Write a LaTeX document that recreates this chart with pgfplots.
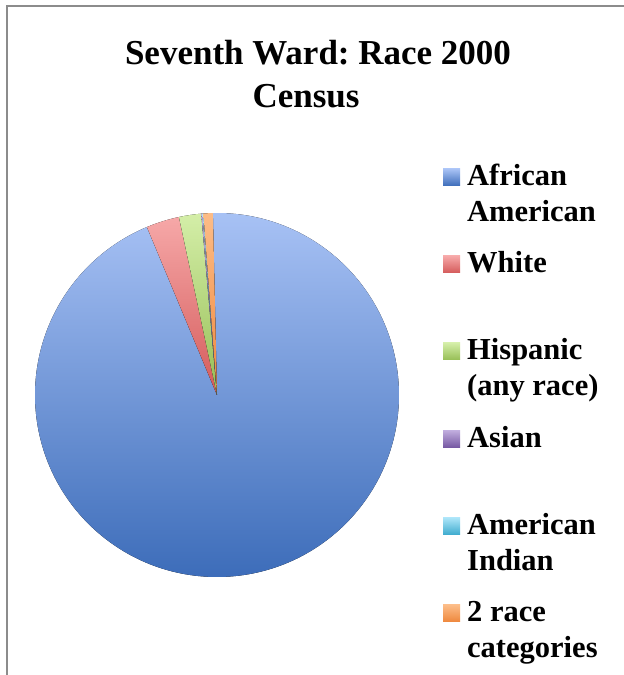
\documentclass[border=0pt]{standalone}
\usepackage{pgfplots}
\pgfplotsset{compat=1.18}
\usepackage{pgfplotstable}
\usepackage{fontspec}
\setmainfont{Liberation Serif}

\pgfplotstableread{
name value
AfricanAmerican 94.07
White 2.94
Hispanic 1.97
Asian 0.11
AmericanIndian 0.08
TwoRace 0.83
}\racedata

\definecolor{aaT}{RGB}{168,194,245}
\definecolor{aaB}{RGB}{60,108,185}
\definecolor{whT}{RGB}{246,168,168}
\definecolor{whB}{RGB}{212,90,90}
\definecolor{hiT}{RGB}{212,238,168}
\definecolor{hiB}{RGB}{150,190,85}
\definecolor{asT}{RGB}{190,170,220}
\definecolor{asB}{RGB}{115,85,160}
\definecolor{aiT}{RGB}{170,228,248}
\definecolor{aiB}{RGB}{60,170,205}
\definecolor{trT}{RGB}{252,188,135}
\definecolor{trB}{RGB}{238,135,60}
\definecolor{framegray}{RGB}{140,140,140}

\newcommand\getval[2]{\pgfplotstablegetelem{#1}{value}\of\racedata\edef#2{\pgfplotsretval}}

\begin{document}
\frenchspacing
\begin{tikzpicture}
\getval{0}{\vA}\getval{1}{\vB}\getval{2}{\vC}\getval{3}{\vD}\getval{4}{\vE}\getval{5}{\vF}
\pgfmathsetmacro\aA{91.3}
\pgfmathsetmacro\aB{\aA-3.6*\vA}
\pgfmathsetmacro\aC{\aB-3.6*\vB}
\pgfmathsetmacro\aD{\aC-3.6*\vC}
\pgfmathsetmacro\aE{\aD-3.6*\vD}
\pgfmathsetmacro\aF{\aE-3.6*\vE}
\pgfmathsetmacro\aG{\aF-3.6*\vF}
\begin{axis}[
  at={(0,0)}, anchor=south west,
  scale only axis, width=624pt, height=675pt,
  xmin=0, xmax=624, ymin=0, ymax=675,
  hide axis, clip=false,
]
\coordinate (C) at (axis cs:217,280);
% pie slices (clockwise)
\fill[top color=aaT, bottom color=aaB] (C) -- ++(\aA:182pt) arc[start angle=\aA, end angle=\aB, radius=182pt] -- cycle;
\fill[top color=whT, bottom color=whB] (C) -- ++(\aB:182pt) arc[start angle=\aB, end angle=\aC, radius=182pt] -- cycle;
\fill[top color=hiT, bottom color=hiB] (C) -- ++(\aC:182pt) arc[start angle=\aC, end angle=\aD, radius=182pt] -- cycle;
\fill[top color=asT, bottom color=asB] (C) -- ++(\aD:182pt) arc[start angle=\aD, end angle=\aE, radius=182pt] -- cycle;
\fill[top color=aiT, bottom color=aiB] (C) -- ++(\aE:182pt) arc[start angle=\aE, end angle=\aF, radius=182pt] -- cycle;
\fill[top color=trT, bottom color=trB] (C) -- ++(\aF:182pt) arc[start angle=\aF, end angle=\aG, radius=182pt] -- cycle;
% frame
\draw[framegray, line width=2pt] (axis cs:7,0) -- (axis cs:7,669) -- (axis cs:624,669);
% title
\node[anchor=base, font=\fontsize{35}{42}\selectfont\bfseries] at (axis cs:318,610) {Seventh Ward: Race 2000};
\node[anchor=base, font=\fontsize{35}{42}\selectfont\bfseries] at (axis cs:306,567) {Census};
% legend
\fill[top color=aaT, bottom color=aaB] (axis cs:443,506) rectangle (axis cs:460,489);
\fill[top color=whT, bottom color=whB] (axis cs:443,419) rectangle (axis cs:460,402);
\fill[top color=hiT, bottom color=hiB] (axis cs:443,332) rectangle (axis cs:460,315);
\fill[top color=asT, bottom color=asB] (axis cs:443,244) rectangle (axis cs:460,227);
\fill[top color=aiT, bottom color=aiB] (axis cs:443,157) rectangle (axis cs:460,140);
\fill[top color=trT, bottom color=trB] (axis cs:443,70) rectangle (axis cs:460,53);
\begin{scope}[every node/.style={anchor=base west, inner sep=0pt, font=\fontsize{30.5}{36}\selectfont\bfseries}]
\node at (axis cs:467,489) {African};
\node at (axis cs:467,453) {American};
\node at (axis cs:467,402) {White};
\node at (axis cs:467,315) {Hispanic};
\node at (axis cs:467,279) {(any race)};
\node at (axis cs:467,227) {Asian};
\node at (axis cs:467,140) {American};
\node at (axis cs:467,104) {Indian};
\node at (axis cs:467,53) {2 race};
\node at (axis cs:467,17) {categories};
\end{scope}
\end{axis}
\pgfresetboundingbox
\path (0,0) rectangle (624pt,675pt);
\end{tikzpicture}
\end{document}
